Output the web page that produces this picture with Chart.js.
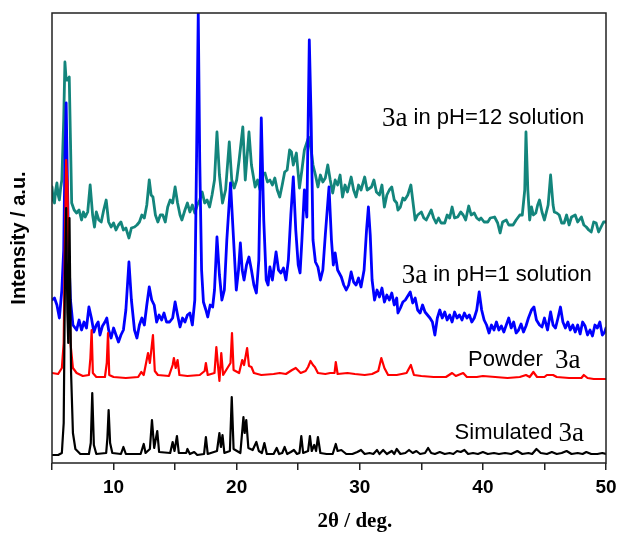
<!DOCTYPE html>
<html lang="en">
<head>
    <meta charset="UTF-8">
    <title>PXRD 3a</title>
    <style>
        html, body { margin: 0; padding: 0; background: #fff; }
        #wrap { width: 619px; height: 535px; position: relative; }
    </style>
</head>
<body>
    <div id="wrap"><canvas id="xrd"></canvas></div>
    <script src="https://cdn.jsdelivr.net/npm/chart.js"></script>
    <script>
// 2θ (deg) and intensity (a.u., patterns already stacked with offsets)
const simTheta = [5.0,5.5,5.8,5.95,6.05,6.15,6.25,6.32,6.42,6.55,6.7,6.9,7.3,8.0,8.15,8.27,8.4,8.6,9.4,9.5,9.6,9.72,9.9,10.6,10.8,11.0,12.2,12.45,12.6,12.95,13.12,13.3,13.55,13.7,14.6,14.8,14.95,15.15,15.3,15.9,16.0,16.2,16.55,16.8,17.35,17.5,17.65,18.4,18.6,18.72,18.85,19.0,19.45,19.6,19.75,20.3,20.55,20.65,20.78,20.95,21.3,21.6,21.8,22.05,22.25,22.45,23.0,23.25,23.45,23.7,23.9,24.1,24.4,24.65,24.9,25.1,25.25,25.4,25.8,25.95,26.1,26.3,26.45,26.6,26.8,27.3,27.8,28.05,28.2,28.5,28.9,29.4,29.8,30.1,30.4,30.8,31.1,31.4,31.6,31.9,32.2,32.6,32.8,33.0,33.3,33.7,34.0,34.3,34.6,34.9,35.3,35.55,35.8,36.1,36.5,36.9,37.3,37.6,37.9,38.2,38.5,38.8,39.2,39.6,40.0,40.4,40.9,41.3,41.8,42.3,42.8,43.2,43.7,44.0,44.35,44.7,45.2,45.6,46.0,46.4,46.8,47.2,47.7,48.1,48.4,48.8,49.3,49.7,50.0];
const simI = [8,8,10,40,180,255,150,120,245,90,30,14,9,9,20,70,18,9,10,25,53,20,10,9,16,9,9,19,10,14,43,15,32,11,10,21,12,27,10,10,14,9,11,8,9,26,9,12,30,16,28,10,12,66,14,10,46,30,43,15,13,21,12,10,20,9,9,15,9,10,16,9,11,13,9,10,27,10,12,27,12,18,12,26,10,9,9,19,12,13,9,9,11,13,9,10,9,13,9,13,9,12,9,14,9,10,13,10,12,9,10,15,10,9,11,9,10,9,12,11,13,9,10,9,11,9,10,9,10,9,12,9,10,9,14,10,9,11,9,10,12,9,10,9,11,9,9,10,9];

const powderTheta = [5.0,5.5,5.8,5.95,6.05,6.15,6.25,6.35,6.5,6.7,7.0,7.5,8.0,8.12,8.22,8.32,8.6,9.3,9.45,9.55,9.65,10.0,11.0,12.0,12.25,12.45,12.8,12.95,13.2,13.35,13.6,14.5,14.8,14.9,15.05,15.2,15.35,16.0,17.0,17.4,17.5,17.65,18.2,18.35,18.5,18.6,18.75,18.9,19.1,19.5,19.62,19.75,20.2,20.45,20.6,20.85,21.0,21.2,21.4,22.0,23.0,23.5,24.0,24.5,24.8,25.2,25.6,25.8,26.0,26.2,26.35,26.6,27.2,27.6,27.95,28.05,28.2,29.0,29.6,30.4,31.0,31.5,31.75,32.0,32.3,33.0,33.8,34.15,34.4,35.0,36.0,37.0,37.5,37.8,38.4,38.7,39.5,40.0,41.0,42.0,43.0,43.5,43.8,44.1,44.4,45.0,45.2,45.7,46.0,47.0,48.0,48.2,48.5,49.0,50.0];
const powderI = [90,89,95,120,220,303,280,200,120,95,90,87,88,105,133,90,86,86,100,130,88,86,85,86,91,88,110,100,128,92,88,87,98,105,95,103,88,87,88,92,100,88,90,116,95,82,110,88,92,100,130,93,90,103,98,115,97,96,90,88,89,90,89,93,95,90,92,96,102,98,96,90,89,90,90,101,89,90,89,88,89,92,105,95,88,88,90,98,88,87,86,86,90,87,90,86,86,87,86,85,86,88,86,91,86,86,88,88,86,85,85,88,85,84,84];

const acidTheta = [5.0,5.2,5.4,5.6,5.8,5.95,6.05,6.15,6.25,6.35,6.5,6.7,7.0,7.2,7.4,7.6,7.8,8.0,8.2,8.4,8.6,8.75,8.9,9.1,9.3,9.45,9.6,9.8,10.0,10.2,10.4,10.6,10.8,11.0,11.25,11.45,11.7,11.9,12.1,12.3,12.5,12.7,12.9,13.1,13.3,13.5,13.7,13.9,14.1,14.3,14.55,14.8,15.0,15.2,15.4,15.6,15.8,16.0,16.2,16.4,16.6,16.75,16.88,17.0,17.15,17.3,17.5,17.65,17.85,18.05,18.2,18.4,18.6,18.8,19.0,19.2,19.5,19.75,19.97,20.15,20.3,20.45,20.6,20.8,21.0,21.2,21.4,21.6,21.8,22.0,22.2,22.4,22.55,22.7,22.9,23.2,23.4,23.6,23.8,24.0,24.2,24.4,24.6,24.8,25.0,25.15,25.3,25.5,25.7,25.9,26.05,26.2,26.4,26.6,26.8,27.0,27.2,27.5,27.7,27.85,28.0,28.2,28.5,28.7,28.9,29.1,29.3,29.5,29.7,29.9,30.1,30.35,30.55,30.7,30.85,31.0,31.2,31.4,31.6,31.8,32.0,32.2,32.4,32.6,32.8,33.0,33.1,33.3,33.5,33.7,33.9,34.1,34.3,34.5,34.7,34.9,35.1,35.3,35.5,35.7,35.9,36.1,36.3,36.5,36.7,36.9,37.1,37.3,37.5,37.7,37.9,38.1,38.3,38.5,38.7,38.9,39.1,39.3,39.5,39.7,39.9,40.1,40.3,40.5,40.7,40.9,41.1,41.3,41.5,41.7,41.9,42.1,42.3,42.5,42.7,42.9,43.1,43.3,43.5,43.7,43.95,44.15,44.35,44.6,44.8,45.0,45.25,45.5,45.7,45.9,46.1,46.3,46.5,46.7,46.9,47.1,47.3,47.5,47.7,47.9,48.1,48.3,48.5,48.7,48.9,49.1,49.3,49.5,49.7,49.9,50.0];
const acidI = [163,165,158,145,173,213,303,360,283,213,163,138,133,143,133,141,135,156,145,131,138,141,128,137,141,145,133,125,135,128,121,128,133,153,201,163,133,125,138,145,138,158,176,163,158,141,148,143,150,141,141,145,161,148,136,145,141,148,150,138,163,313,450,303,193,161,153,146,158,156,173,226,188,163,173,223,280,223,173,193,220,193,183,198,206,193,178,170,203,345,243,183,178,196,183,211,193,190,195,183,203,248,286,233,198,190,223,273,246,423,343,223,201,196,183,193,228,276,223,198,210,193,186,178,173,178,191,181,178,185,176,193,233,256,228,183,163,173,166,175,161,168,163,170,158,165,150,155,161,163,167,171,160,165,153,150,158,151,148,145,141,128,145,153,145,151,143,148,141,151,145,148,143,150,145,148,141,145,153,171,153,143,138,130,138,133,141,133,137,131,138,145,135,141,130,133,139,131,137,145,153,156,143,138,136,145,133,151,138,135,145,156,141,135,141,133,138,131,138,129,141,137,128,133,127,138,135,141,128,131,135,133];

const baseTheta = [5.0,5.1,5.2,5.3,5.4,5.5,5.6,5.7,5.8,5.95,6.05,6.15,6.25,6.4,6.5,6.6,6.8,7.0,7.2,7.4,7.55,7.7,7.9,8.1,8.3,8.45,8.6,8.8,9.0,9.2,9.4,9.6,9.8,10.0,10.2,10.4,10.6,10.8,11.0,11.25,11.45,11.7,11.9,12.1,12.3,12.5,12.7,12.9,13.05,13.2,13.4,13.6,13.8,14.0,14.2,14.4,14.6,14.8,15.0,15.2,15.4,15.55,15.8,16.0,16.2,16.4,16.6,16.8,17.0,17.2,17.4,17.6,17.8,18.0,18.2,18.4,18.6,18.85,19.1,19.4,19.6,19.8,20.0,20.2,20.5,20.7,21.0,21.2,21.5,21.7,21.9,22.1,22.3,22.5,22.7,22.9,23.1,23.3,23.5,23.7,23.9,24.1,24.3,24.45,24.6,24.85,25.1,25.3,25.5,25.85,26.05,26.2,26.4,26.6,26.8,27.0,27.2,27.4,27.6,27.8,28.0,28.2,28.4,28.6,28.8,29.0,29.3,29.5,29.7,29.9,30.1,30.4,30.6,30.95,31.15,31.35,31.6,31.8,32.0,32.2,32.4,32.6,32.8,33.0,33.1,33.3,33.5,33.65,33.9,34.15,34.3,34.5,34.7,35.0,35.2,35.4,35.6,35.8,36.0,36.2,36.4,36.6,36.9,37.1,37.3,37.5,37.7,37.95,38.2,38.4,38.6,38.85,39.05,39.3,39.5,39.7,39.85,40.1,40.4,40.6,40.95,41.2,41.4,41.6,41.9,42.1,42.45,42.7,43.0,43.2,43.4,43.5,43.65,43.8,43.95,44.1,44.3,44.45,44.6,44.8,45.0,45.3,45.5,45.7,45.8,46.0,46.2,46.4,46.6,46.8,47.0,47.2,47.5,47.7,48.0,48.2,48.4,48.6,48.8,49.0,49.2,49.4,49.6,49.8,50.0];
const baseI = [276,263,260,273,280,268,263,275,283,343,401,383,383,386,323,260,253,250,253,243,251,246,251,278,248,236,251,243,241,253,263,241,236,240,233,238,241,233,235,225,235,236,238,241,248,245,258,283,268,266,248,241,248,248,241,256,263,260,276,260,248,243,253,260,251,258,250,258,263,271,260,263,256,268,283,331,288,260,273,321,283,275,283,303,336,283,331,298,276,283,273,288,290,281,283,278,285,273,266,278,291,293,313,311,298,310,275,293,313,326,313,298,288,276,288,281,285,298,283,270,283,278,288,266,278,271,286,273,266,278,273,286,273,276,283,271,268,278,256,268,273,276,263,260,253,256,265,263,268,278,263,243,248,251,245,243,248,253,245,240,245,240,240,248,245,256,245,246,251,248,243,257,248,250,245,243,245,241,241,245,246,240,230,241,243,238,238,243,248,248,273,331,273,243,256,248,250,258,263,251,243,258,288,258,251,250,248,240,240,248,238,246,248,241,246,238,236,233,231,241,240,231,236,241,241];

const seriesNames = ['Simulated 3a', 'Powder 3a', '3a in pH=1 solution', '3a in pH=12 solution'];
const xTicks = [10, 20, 30, 40, 50];

function pts(t, v) { return t.map((x, i) => ({ x: x, y: v[i] })); }

const SANS = '"Liberation Sans", Arial, sans-serif';
const SERIF = '"Liberation Serif", "Times New Roman", serif';

// curve labels: "3a" in serif, rest in sans
const curveLabels = [
    { parts: ['3a', ' in pH=12 solution'], x: 31.8, y: 345 },
    { parts: ['3a', ' in pH=1 solution'], x: 33.4, y: 188 },
    { parts: ['Powder  ', '3a'], x: 38.8, y: 103 },
    { parts: ['Simulated ', '3a'], x: 37.7, y: 30 }
];

const decor = {
    id: 'decor',
    afterDraw(chart) {
        const ctx = chart.ctx, a = chart.chartArea;
        const xs = chart.scales.x, ys = chart.scales.y;
        ctx.save();
        ctx.strokeStyle = '#222';
        ctx.lineWidth = 1.5;
        ctx.strokeRect(a.left, a.top, a.right - a.left, a.bottom - a.top);

        ctx.fillStyle = '#000';
        ctx.textBaseline = 'middle';
        curveLabels.forEach(l => {
            let px = xs.getPixelForValue(l.x);
            const py = ys.getPixelForValue(l.y);
            l.parts.forEach(p => {
                ctx.font = p === '3a' ? '27px ' + SERIF : '22px ' + SANS;
                ctx.fillText(p, px, p === '3a' ? py + 1 : py);
                px += ctx.measureText(p).width;
            });
        });

        // x title
        ctx.font = 'bold 21px ' + SERIF;
        ctx.textAlign = 'center';
        ctx.fillText('2\u03b8 / deg.', xs.getPixelForValue(29.6), 522);
        ctx.restore();
    }
};

new Chart(document.getElementById('xrd'), {
    type: 'line',
    data: {
        datasets: [
            { label: seriesNames[0], data: pts(simTheta, simI), borderColor: '#000000', borderWidth: 2.2, order: 1 },
            { label: seriesNames[1], data: pts(powderTheta, powderI), borderColor: '#ff0000', borderWidth: 2.2, order: 2 },
            { label: seriesNames[2], data: pts(acidTheta, acidI), borderColor: '#0000ff', borderWidth: 2.8, order: 3 },
            { label: seriesNames[3], data: pts(baseTheta, baseI), borderColor: '#13857c', borderWidth: 2.8, order: 4 }
        ]
    },
    options: {
        responsive: true,
        maintainAspectRatio: false,
        animation: false,
        elements: { point: { radius: 0 }, line: { tension: 0, borderJoinStyle: 'round', borderCapStyle: 'round' } },
        layout: { padding: { top: 13, right: 13, left: 0, bottom: 0 } },
        plugins: { legend: { display: false }, tooltip: { enabled: false } },
        scales: {
            x: {
                type: 'linear', min: 5, max: 50,
                border: { display: false },
                grid: { display: true, drawOnChartArea: false, drawTicks: true, tickLength: 7, color: '#222', lineWidth: 1.5 },
                ticks: {
                    stepSize: 5, autoSkip: false, maxRotation: 0, padding: 6,
                    color: '#000', font: { family: SANS, size: 19, weight: 'bold' },
                    callback: v => xTicks.includes(v) ? String(v) : ''
                },
                afterFit: s => { s.height = 72; s.paddingLeft = 0; s.paddingRight = 0; }
            },
            y: {
                min: 0, max: 450,
                border: { display: false },
                grid: { display: false },
                ticks: { display: false },
                title: { display: true, text: 'Intensity / a.u.', color: '#000', padding: { top: 7, bottom: 0 }, font: { family: SANS, size: 20, weight: 'bold' } },
                afterFit: s => { s.width = 52; }
            }
        }
    },
    plugins: [decor]
});
    </script>
</body>
</html>
